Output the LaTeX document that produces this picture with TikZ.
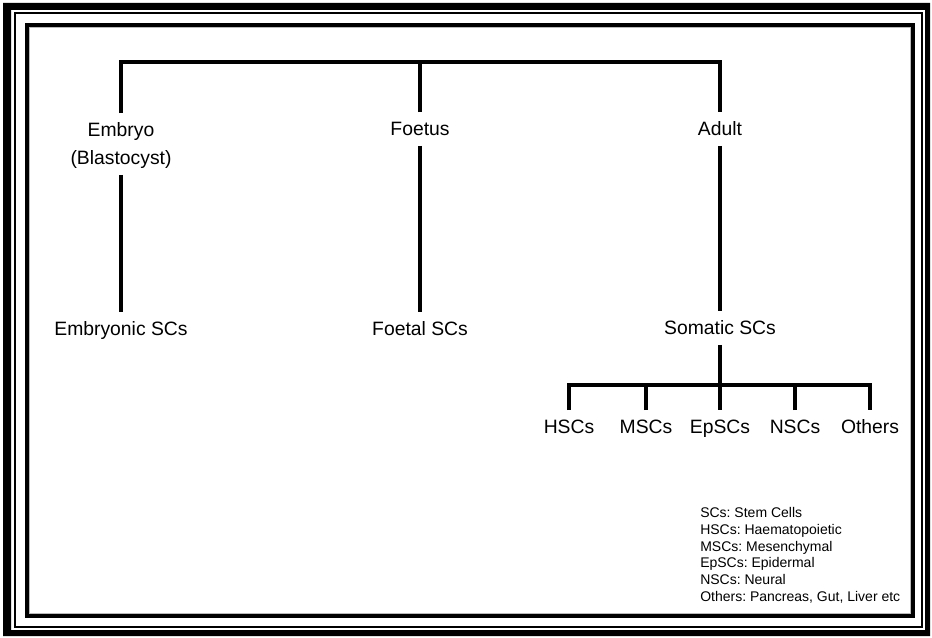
\documentclass[tikz,border=0pt]{standalone}
\usepackage{fontspec}
\setmainfont{Liberation Sans}
\frenchspacing
\begin{document}
\begin{tikzpicture}[x=0.75pt,y=-0.75pt,
  lbl/.style={inner sep=0pt, outer xsep=0pt, outer ysep=7.5pt, text height=10.4pt, text depth=0pt,
              font=\fontsize{14.5}{17}\selectfont},
  tree/.style={line width=3pt, line join=miter},
  legend/.style={inner sep=0pt, anchor=north west, align=left, font=\fontsize{10.5}{12.6}\selectfont\frenchspacing}]
\useasboundingbox (0,0) rectangle (932,638);
% frame
\fill[black, even odd rule] (3,3) rectangle (930,636) (11,10) rectangle (925,630);
\draw[line width=1.5pt] (15,13) rectangle (922,627);
\draw[gray!55, line width=1pt] (29.7,27.7) rectangle (910.3,613.3);
\draw[line width=3pt] (27,25) rectangle (913,616);
% nodes
\coordinate (topbar) at (420,62);
\coordinate (sbar) at (720,385);
\node[lbl] (embryo) at (121,130) {Embryo};
\node[lbl] (blasto) at (121,158) {(Blastocyst)};
\node[lbl] (foetus) at (420,129) {Foetus};
\node[lbl] (adult) at (720,129) {Adult};
\node[lbl] (esc) at (121,329) {Embryonic SCs};
\node[lbl] (fsc) at (420,329) {Foetal SCs};
\node[lbl] (somatic) at (720,328) {Somatic SCs};
\node[lbl] (hsc) at (569,427) {HSCs};
\node[lbl] (msc) at (646,427) {MSCs};
\node[lbl] (epsc) at (720,427) {EpSCs};
\node[lbl] (nsc) at (795,427) {NSCs};
\node[lbl] (others) at (870,427) {Others};
\node[legend] (legend) at (700,507) {SCs: Stem Cells\\HSCs: Haematopoietic\\MSCs: Mesenchymal\\EpSCs: Epidermal\\NSCs: Neural\\Others: Pancreas, Gut, Liver etc};
% connectors
\draw[tree] (embryo.north) -- (embryo.north |- topbar) -- (adult.north |- topbar) -- (adult.north);
\draw[tree] (foetus.north) -- (foetus.north |- topbar);
\draw[tree] (blasto.south) -- (esc.north);
\draw[tree] (foetus.south) -- (fsc.north);
\draw[tree] (adult.south) -- (somatic.north);
\draw[tree] (somatic.south) -- (epsc.north);
\draw[tree] (hsc.north) -- (hsc.north |- sbar) -- (others.north |- sbar) -- (others.north);
\draw[tree] (msc.north) -- (msc.north |- sbar);
\draw[tree] (nsc.north) -- (nsc.north |- sbar);
\end{tikzpicture}
\end{document}
